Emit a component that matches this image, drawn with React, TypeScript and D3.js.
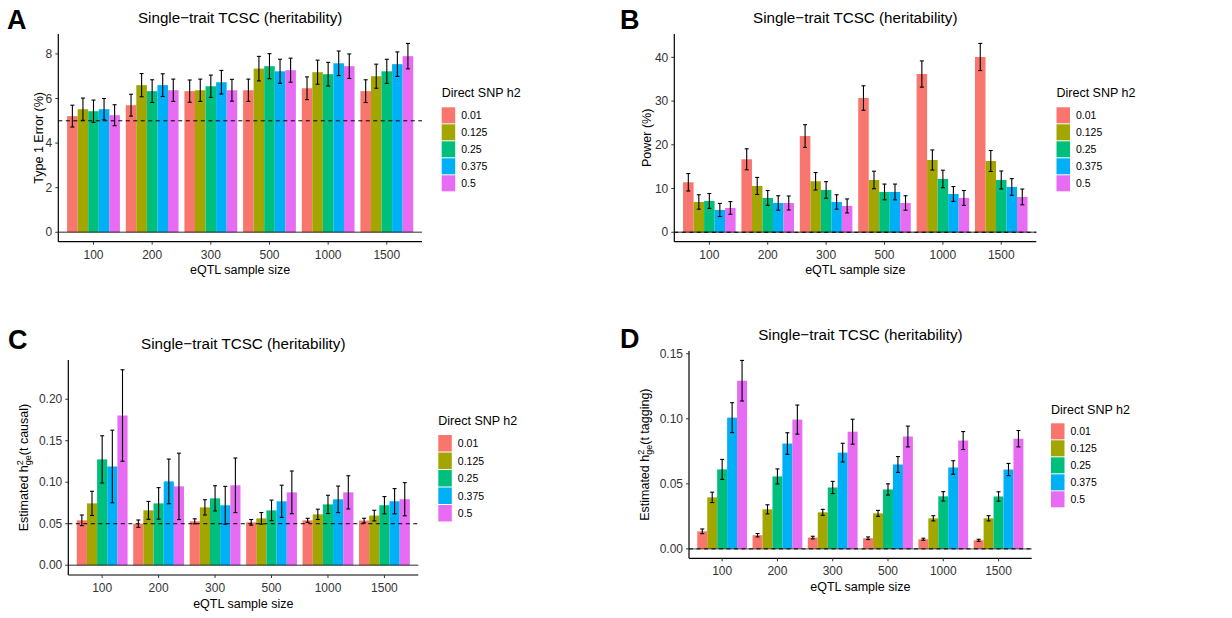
import React from "react";
import * as d3 from "d3";

const sampleSizes = ["100", "200", "300", "500", "1000", "1500"];
const h2Levels = ["0.01", "0.125", "0.25", "0.375", "0.5"];
const h2Colors = ["#F8766D", "#A3A500", "#00BF7D", "#00B0F6", "#E76BF3"];

// Panel A: Type 1 error (%) — rows = sample size, cols = direct SNP h2
const typeIErrorMean = [
  [5.21, 5.52, 5.43, 5.52, 5.25],
  [5.7, 6.6, 6.33, 6.6, 6.37],
  [6.33, 6.37, 6.55, 6.73, 6.37],
  [6.37, 7.34, 7.45, 7.22, 7.27],
  [6.46, 7.18, 7.09, 7.58, 7.45],
  [6.33, 7.0, 7.22, 7.54, 7.9],
];
const typeIErrorErr = [
  [0.49, 0.5, 0.5, 0.48, 0.47],
  [0.49, 0.52, 0.51, 0.51, 0.5],
  [0.5, 0.5, 0.5, 0.53, 0.49],
  [0.5, 0.55, 0.56, 0.54, 0.54],
  [0.51, 0.54, 0.53, 0.55, 0.55],
  [0.51, 0.54, 0.54, 0.55, 0.57],
];

// Panel B: Power (%)
const powerMean = [
  [11.43, 6.93, 7.16, 5.1, 5.56],
  [16.69, 10.59, 7.85, 6.7, 6.7],
  [22.0, 11.66, 9.68, 6.93, 6.02],
  [30.7, 11.96, 9.22, 9.22, 6.7],
  [36.19, 16.53, 12.19, 8.76, 7.85],
  [40.08, 16.3, 11.96, 10.36, 8.08],
];
const powerErr = [
  [2.0, 1.65, 1.7, 1.5, 1.45],
  [2.4, 1.95, 1.7, 1.65, 1.6],
  [2.6, 2.0, 1.9, 1.65, 1.6],
  [2.8, 2.0, 1.8, 1.8, 1.65],
  [3.0, 2.3, 2.0, 1.7, 1.7],
  [3.1, 2.4, 2.05, 1.9, 1.8],
];

// Panel C: estimated h2ge (t causal)
const causalMean = [
  [0.0541, 0.0745, 0.1275, 0.119, 0.1804],
  [0.0501, 0.0661, 0.0745, 0.101, 0.095],
  [0.0529, 0.0697, 0.0806, 0.0722, 0.0963],
  [0.0517, 0.0565, 0.0661, 0.077, 0.0878],
  [0.0541, 0.0613, 0.0733, 0.0794, 0.0878],
  [0.0538, 0.0598, 0.0723, 0.0771, 0.0795],
];
const causalErr = [
  [0.0064, 0.0146, 0.0285, 0.0437, 0.0551],
  [0.0044, 0.0108, 0.019, 0.0269, 0.04],
  [0.003, 0.0092, 0.0152, 0.0228, 0.0329],
  [0.0034, 0.007, 0.0124, 0.0194, 0.0257],
  [0.0024, 0.0062, 0.011, 0.016, 0.02],
  [0.0028, 0.0064, 0.0104, 0.0152, 0.02],
];

// Panel D: estimated h2ge (t tagging)
const taggingMean = [
  [0.0135, 0.0396, 0.0611, 0.1009, 0.1293],
  [0.0105, 0.0304, 0.0557, 0.081, 0.0994],
  [0.0087, 0.0281, 0.0472, 0.074, 0.0901],
  [0.0082, 0.0273, 0.0457, 0.0649, 0.0864],
  [0.0074, 0.0235, 0.0404, 0.0626, 0.0833],
  [0.0066, 0.0235, 0.0403, 0.061, 0.0847],
];
const taggingErr = [
  [0.0018, 0.004, 0.0077, 0.0115, 0.0156],
  [0.0013, 0.0035, 0.0058, 0.0083, 0.0112],
  [0.001, 0.0023, 0.0047, 0.0072, 0.0096],
  [0.001, 0.0023, 0.0043, 0.0061, 0.008],
  [0.0008, 0.002, 0.0036, 0.0052, 0.0069],
  [0.0008, 0.002, 0.0036, 0.0047, 0.0063],
];

const typeITicks = [0, 2, 4, 6, 8];
const powerTicks = [0, 10, 20, 30, 40];
const causalTicks = [0, 0.05, 0.1, 0.15, 0.2];
const taggingTicks = [0, 0.05, 0.1, 0.15];

const FONT = "'Liberation Sans', Arial, Helvetica, sans-serif";
const TITLE = "Single\u2212trait TCSC (heritability)";

type PanelProps = {
  left: number;
  right: number;
  top: number;
  bottom: number;
  mean: number[][];
  err: number[][];
  ticks: number[];
  fmt: (v: number) => string;
  refLine: number;
  letter: string;
  letterX: number;
  letterY: number;
  yLabel: React.ReactNode;
  yLabelX: number;
  legendX: number;
  legendTitleY: number;
  legendKeyTop: number;
  legendPitch: number;
};

function Panel(p: PanelProps) {
  const x = d3
    .scaleBand<string>()
    .domain(sampleSizes)
    .range([p.left, p.right])
    .paddingInner(0.1)
    .paddingOuter(0.15);
  const xi = d3.scaleBand<string>().domain(h2Levels).range([0, x.bandwidth()]);
  const maxV = d3.max(p.mean.flatMap((row, i) => row.map((v, j) => v + p.err[i][j]))) as number;
  const pad = maxV * 0.05;
  const y = d3.scaleLinear().domain([-pad, maxV + pad]).range([p.bottom, p.top]);
  const cx = (p.left + p.right) / 2;
  const cy = (p.top + p.bottom) / 2;

  return (
    <g fontFamily={FONT}>
      <text x={p.letterX} y={p.letterY} fontSize={27} fontWeight="bold" fill="#000">
        {p.letter}
      </text>
      <text x={cx} y={p.top - 10.7} fontSize={15.2} textAnchor="middle" fill="#000">
        {TITLE}
      </text>
      {/* bars */}
      {sampleSizes.map((s, i) =>
        h2Levels.map((h, j) => {
          const v = p.mean[i][j];
          return (
            <rect
              key={s + h}
              x={(x(s) as number) + (xi(h) as number)}
              y={y(v)}
              width={xi.bandwidth()}
              height={y(0) - y(v)}
              fill={h2Colors[j]}
            />
          );
        })
      )}
      {/* zero line */}
      <line x1={p.left} x2={p.right} y1={y(0)} y2={y(0)} stroke="#000" strokeOpacity={0.55} strokeWidth={1.3} />
      {/* reference dashed line */}
      <line
        x1={p.left}
        x2={p.right}
        y1={y(p.refLine)}
        y2={y(p.refLine)}
        stroke="#000"
        strokeWidth={1}
        strokeDasharray="4,3.5"
      />
      {/* error bars */}
      {sampleSizes.map((s, i) =>
        h2Levels.map((h, j) => {
          const m = (x(s) as number) + (xi(h) as number) + xi.bandwidth() / 2;
          const lo = y(p.mean[i][j] - p.err[i][j]);
          const hi = y(p.mean[i][j] + p.err[i][j]);
          return (
            <g key={"e" + s + h} stroke="#000" strokeWidth={1.1}>
              <line x1={m} x2={m} y1={lo} y2={hi} />
              <line x1={m - 2} x2={m + 2} y1={lo} y2={lo} />
              <line x1={m - 2} x2={m + 2} y1={hi} y2={hi} />
            </g>
          );
        })
      )}
      {/* axes */}
      <line x1={p.left} x2={p.left} y1={p.top} y2={p.bottom} stroke="#000" strokeWidth={1.2} />
      <line x1={p.left} x2={p.right} y1={p.bottom} y2={p.bottom} stroke="#000" strokeWidth={1.2} />
      {p.ticks.map((t) => (
        <g key={"yt" + t}>
          <line x1={p.left - 3} x2={p.left} y1={y(t)} y2={y(t)} stroke="#333" strokeWidth={1} />
          <text x={p.left - 6} y={y(t) + 4.2} fontSize={12} textAnchor="end" fill="#333">
            {p.fmt(t)}
          </text>
        </g>
      ))}
      {sampleSizes.map((s) => {
        const m = (x(s) as number) + x.bandwidth() / 2;
        return (
          <g key={"xt" + s}>
            <line x1={m} x2={m} y1={p.bottom} y2={p.bottom + 3} stroke="#333" strokeWidth={1} />
            <text x={m} y={p.bottom + 16.8} fontSize={12} textAnchor="middle" fill="#333">
              {s}
            </text>
          </g>
        );
      })}
      <text x={cx} y={p.bottom + 32.6} fontSize={12.5} textAnchor="middle" fill="#000">
        eQTL sample size
      </text>
      <text
        transform={`translate(${p.yLabelX},${cy}) rotate(-90)`}
        fontSize={12.5}
        textAnchor="middle"
        fill="#000"
      >
        {p.yLabel}
      </text>
      {/* legend */}
      <text x={p.legendX} y={p.legendTitleY} fontSize={12.5} fill="#000">
        Direct SNP h2
      </text>
      {h2Levels.map((h, j) => {
        const ky = p.legendKeyTop + j * p.legendPitch;
        return (
          <g key={"lg" + h}>
            <rect x={p.legendX} y={ky} width={13.5} height={p.legendPitch - 1} fill={h2Colors[j]} />
            <text x={p.legendX + 19.5} y={ky + p.legendPitch / 2 + 3.3} fontSize={10.5} fill="#000">
              {h}
            </text>
          </g>
        );
      })}
    </g>
  );
}

function HgeLabel({ suffix }: { suffix: string }) {
  return (
    <>
      <tspan>Estimated h</tspan>
      <tspan fontSize={9} dy={-5}>2</tspan>
      <tspan fontSize={9} dx={-5} dy={8}>ge</tspan>
      <tspan dy={-3}>{suffix}</tspan>
    </>
  );
}

const fmtInt = (v: number) => d3.format("d")(v);
const fmt2 = (v: number) => d3.format(".2f")(v);

export default function App() {
  return (
    <svg
      width={1232}
      height={618}
      style={{ position: "absolute", left: 0, top: 0, background: "#fff" }}
    >
      <rect width={1232} height={618} fill="#fff" />
      <Panel
        left={58.3}
        right={422}
        top={34}
        bottom={241.7}
        mean={typeIErrorMean}
        err={typeIErrorErr}
        ticks={typeITicks}
        fmt={fmtInt}
        refLine={5}
        letter="A"
        letterX={7}
        letterY={29.3}
        yLabel="Type 1 Error (%)"
        yLabelX={42.7}
        legendX={441.7}
        legendTitleY={96.7}
        legendKeyTop={107.3}
        legendPitch={17}
      />
      <Panel
        left={674.3}
        right={1036.3}
        top={34}
        bottom={241.7}
        mean={powerMean}
        err={powerErr}
        ticks={powerTicks}
        fmt={fmtInt}
        refLine={0}
        letter="B"
        letterX={620}
        letterY={29.3}
        yLabel="Power (%)"
        yLabelX={650.7}
        legendX={1056.5}
        legendTitleY={96.7}
        legendKeyTop={107.3}
        legendPitch={17}
      />
      <Panel
        left={68.3}
        right={418.3}
        top={360}
        bottom={575}
        mean={causalMean}
        err={causalErr}
        ticks={causalTicks}
        fmt={fmt2}
        refLine={0.05}
        letter="C"
        letterX={8}
        letterY={349.3}
        yLabel={<HgeLabel suffix="(t causal)" />}
        yLabelX={28.3}
        legendX={438.3}
        legendTitleY={424.7}
        legendKeyTop={435}
        legendPitch={17.5}
      />
      <Panel
        left={689}
        right={1031.7}
        top={351}
        bottom={558.3}
        mean={taggingMean}
        err={taggingErr}
        ticks={taggingTicks}
        fmt={fmt2}
        refLine={0}
        letter="D"
        letterX={620}
        letterY={348.3}
        yLabel={<HgeLabel suffix="(t tagging)" />}
        yLabelX={649.3}
        legendX={1051}
        legendTitleY={414}
        legendKeyTop={423.3}
        legendPitch={17}
      />
    </svg>
  );
}
